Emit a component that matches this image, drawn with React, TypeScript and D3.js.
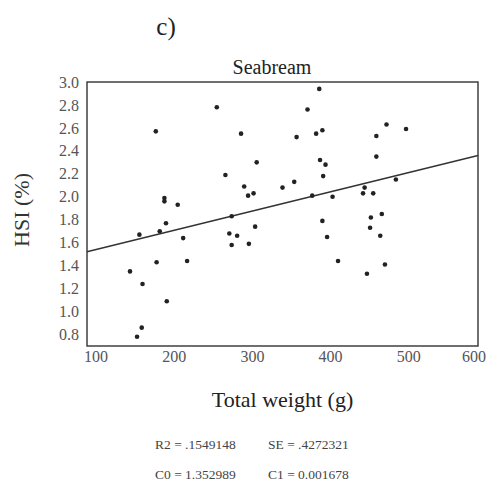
import React from "react";
import * as d3 from "d3";

const weight = [266, 188, 297, 368, 317, 277, 301, 306, 313, 350, 365, 199, 199, 216, 285, 201, 167, 193, 223, 282, 292, 315, 285, 307, 189, 228, 155, 171, 202, 170, 164, 397, 382, 483, 508, 393, 401, 470, 470, 398, 405, 402, 495, 388, 414, 455, 453, 466, 463, 477, 401, 462, 475, 407, 421, 481, 458];
const hsi = [2.78, 2.57, 2.55, 2.52, 2.30, 2.19, 2.09, 2.01, 2.03, 2.08, 2.13, 1.99, 1.96, 1.93, 1.83, 1.77, 1.67, 1.70, 1.64, 1.68, 1.66, 1.74, 1.58, 1.59, 1.43, 1.44, 1.35, 1.24, 1.09, 0.86, 0.78, 2.94, 2.76, 2.63, 2.59, 2.55, 2.58, 2.53, 2.35, 2.32, 2.28, 2.18, 2.15, 2.01, 2.00, 2.08, 2.03, 2.03, 1.82, 1.85, 1.79, 1.73, 1.66, 1.65, 1.44, 1.41, 1.33];
const xTicks = [100, 200, 300, 400, 500, 600];
const yTicks = [0.8, 1.0, 1.2, 1.4, 1.6, 1.8, 2.0, 2.2, 2.4, 2.6, 2.8, 3.0];
const c0 = 1.352989;
const c1 = 0.001678;
const statsRow1 = ["R2 = .1549148", "SE = .4272321"];
const statsRow2 = ["C0 = 1.352989", "C1 = 0.001678"];

export default function App() {
  const W = 503, H = 486;
  const left = 87, right = 478, top = 82, bottom = 346;
  const x = d3.scaleLinear().domain([100, 600]).range([left, right]);
  const y = d3.scaleLinear().domain([0.7, 3.0]).range([bottom, top]);
  const font = "'Liberation Serif', 'Times New Roman', serif";
  const lineGen = d3.line<number>().x((d) => x(d)).y((d) => y(c0 + c1 * d));
  const pts = weight.map((w, i) => ({ w, h: hsi[i] }));
  return (
    <svg width={W} height={H} style={{ position: "absolute", left: 0, top: 0, background: "#fff" }} fontFamily={font}>
      <text x={166} y={35} fontSize={25} textAnchor="middle" fill="#222">c)</text>
      <text x={272} y={74} fontSize={20} textAnchor="middle" fill="#222">Seabream</text>
      <rect x={left} y={top} width={right - left} height={bottom - top} fill="none" stroke="#333" strokeWidth={1.4} />
      {yTicks.map((t) => (
        <text key={t} x={left - 8} y={y(t)} dy="0.35em" fontSize={16} textAnchor="end" fill="#555">{t.toFixed(1)}</text>
      ))}
      {xTicks.map((t, i) => (
        <text key={t} x={x(t) + (i === xTicks.length - 1 ? -4 : 9)} y={bottom + 16} fontSize={16} textAnchor="middle" fill="#555">{t}</text>
      ))}
      <path d={lineGen([100, 600]) || ""} fill="none" stroke="#333" strokeWidth={1.4} />
      {pts.map((p, i) => (
        <circle key={i} cx={x(p.w)} cy={y(p.h)} r={2.3} fill="#222" />
      ))}
      <text transform={`translate(29,${(top + bottom) / 2 - 4}) rotate(-90)`} fontSize={22} textAnchor="middle" fill="#333">HSI (%)</text>
      <text x={(left + right) / 2} y={407} fontSize={22} textAnchor="middle" fill="#222">Total weight (g)</text>
      <text x={155} y={449} fontSize={13.5} fill="#444">{statsRow1[0]}</text>
      <text x={268} y={449} fontSize={13.5} fill="#444">{statsRow1[1]}</text>
      <text x={155} y={479} fontSize={13.5} fill="#444">{statsRow2[0]}</text>
      <text x={268} y={479} fontSize={13.5} fill="#444">{statsRow2[1]}</text>
    </svg>
  );
}
